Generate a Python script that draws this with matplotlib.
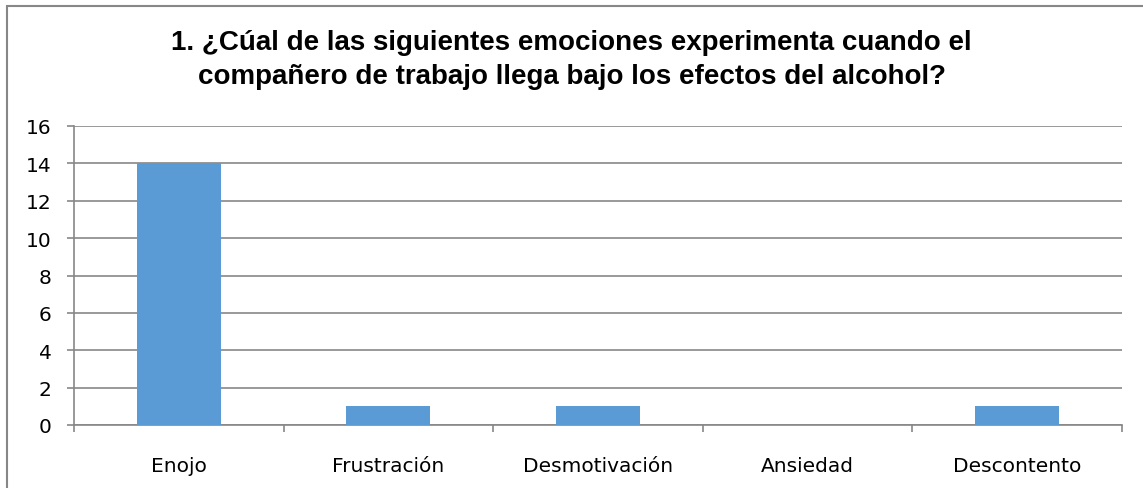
import matplotlib
matplotlib.use("Agg")
import matplotlib.pyplot as plt
from matplotlib.patches import Rectangle
import numpy as np

# Datos del gráfico
categorias = ["Enojo", "Frustración", "Desmotivación", "Ansiedad", "Descontento"]
valores = [14, 1, 1, 0, 1]
ticks_y = [0, 2, 4, 6, 8, 10, 12, 14, 16]
titulo = ("1. ¿Cúal de las siguientes emociones experimenta cuando el\n"
          "compañero de trabajo llega bajo los efectos del alcohol?")

color_barra = "#5B9BD5"
gris = "#878787"

fig = plt.figure(figsize=(11.43, 4.89), dpi=100)
ax = fig.add_axes([74 / 1143, 1 - 426 / 489, (1122 - 74) / 1143, (426 - 127) / 489])

x = np.arange(len(categorias))
ax.bar(x, valores, width=0.4, color=color_barra, zorder=3)

ax.set_xlim(-0.5, len(categorias) - 0.5)
ax.set_ylim(0, 16)
ax.set_yticks(ticks_y)
ax.set_yticklabels([str(t) for t in ticks_y], fontsize=14.5, fontfamily="DejaVu Sans")
ax.set_xticks(x)
ax.set_xticklabels(categorias, fontsize=14.5, fontfamily="DejaVu Sans")
ax.tick_params(axis="x", length=0, pad=22)
ax.tick_params(axis="y", length=5, width=1.2, color=gris, pad=11)

# marcas entre categorías
ax.set_xticks(np.arange(-0.5, len(categorias)), minor=True)
ax.tick_params(axis="x", which="minor", length=5, width=1.2, color=gris)

ax.grid(axis="y", color=gris, linewidth=1.2, zorder=0)
for lado in ["top", "right"]:
    ax.spines[lado].set_visible(False)
ax.spines["left"].set_color(gris)
ax.spines["left"].set_linewidth(1.2)
ax.spines["bottom"].set_color(gris)
ax.spines["bottom"].set_linewidth(1.2)

fig.text(0.5, 1 - 60 / 489, titulo, ha="center", va="center", fontsize=20,
         fontweight="bold", fontfamily="Liberation Sans", linespacing=1.45)

# borde del gráfico (solo se ven el lado izquierdo y el superior)
fig.patches.append(Rectangle((7 / 1143, -0.05), 1.1, 1 - 7 / 489 + 0.05,
                             transform=fig.transFigure, fill=False,
                             edgecolor=gris, linewidth=1.5))

fig.savefig("out.png", dpi=100)
